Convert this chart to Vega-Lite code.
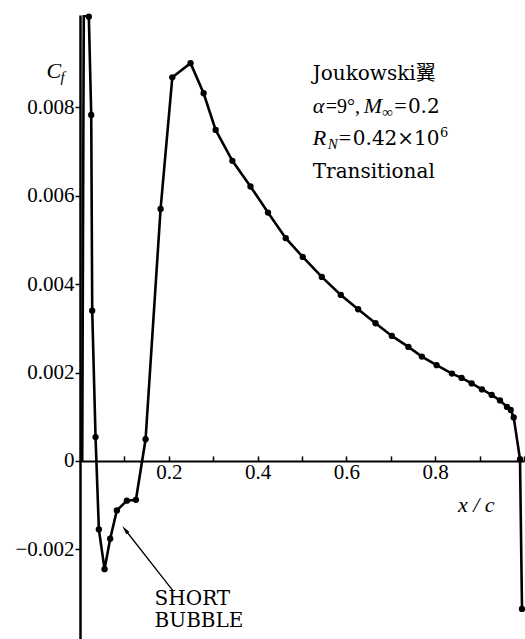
{
  "$schema": "https://vega.github.io/schema/vega-lite/v6.json",
  "width": 444,
  "height": 624,
  "autosize": {"type": "none"},
  "padding": {"left": 80, "top": 15, "right": 1, "bottom": 0},
  "background": "white",
  "config": {"view": {"stroke": null}},
  "data": {"values": [{}]},
  "datasets": {
    "cf": [
      {"x": 0.005, "cf": 0.0},
      {"x": 0.0085, "cf": 0.01009},
      {"x": 0.0199, "cf": 0.01005},
      {"x": 0.0253, "cf": 0.00783},
      {"x": 0.0275, "cf": 0.0034},
      {"x": 0.035, "cf": 0.00054},
      {"x": 0.0425, "cf": -0.00155},
      {"x": 0.0553, "cf": -0.00245},
      {"x": 0.068, "cf": -0.00176},
      {"x": 0.083, "cf": -0.00112},
      {"x": 0.1055, "cf": -0.0009},
      {"x": 0.126, "cf": -0.00088},
      {"x": 0.1477, "cf": 0.00049},
      {"x": 0.1815, "cf": 0.0057},
      {"x": 0.2079, "cf": 0.00868},
      {"x": 0.249, "cf": 0.009},
      {"x": 0.2784, "cf": 0.00832},
      {"x": 0.3055, "cf": 0.00749},
      {"x": 0.3432, "cf": 0.00679},
      {"x": 0.384, "cf": 0.00621},
      {"x": 0.4234, "cf": 0.00562},
      {"x": 0.4634, "cf": 0.00504},
      {"x": 0.5017, "cf": 0.004615},
      {"x": 0.5445, "cf": 0.004163},
      {"x": 0.5874, "cf": 0.003756},
      {"x": 0.6264, "cf": 0.003432},
      {"x": 0.6656, "cf": 0.003115},
      {"x": 0.7024, "cf": 0.002828},
      {"x": 0.7396, "cf": 0.002579},
      {"x": 0.77, "cf": 0.00236},
      {"x": 0.8032, "cf": 0.002167},
      {"x": 0.8377, "cf": 0.001975},
      {"x": 0.8595, "cf": 0.001878},
      {"x": 0.8821, "cf": 0.001753},
      {"x": 0.9053, "cf": 0.001618},
      {"x": 0.9272, "cf": 0.001493},
      {"x": 0.9459, "cf": 0.001369},
      {"x": 0.9617, "cf": 0.001222},
      {"x": 0.97, "cf": 0.001154},
      {"x": 0.9768, "cf": 0.000984},
      {"x": 0.991, "cf": 0.00004},
      {"x": 0.9955, "cf": -0.00335}
    ]
  },
  "layer": [
    {
      "data": {"name": "cf"},
      "mark": {"type": "line", "color": "black", "strokeWidth": 2.6, "clip": true},
      "encoding": {
        "x": {
          "field": "x", "type": "quantitative",
          "scale": {"domain": [0, 1], "nice": false, "zero": false},
          "axis": {
            "orient": "bottom", "offset": -178.1,
            "values": [0.1, 0.2, 0.3, 0.4, 0.5, 0.6, 0.7, 0.8, 0.9, 1.0],
            "labelExpr": "indexof(['0.2','0.4','0.6','0.8'], format(datum.value, '.1f')) >= 0 ? format(datum.value, '.1f') : ''",
            "title": null, "grid": false,
            "tickSize": -5, "tickWidth": 1.5, "tickColor": "black",
            "domainWidth": 2, "domainColor": "black",
            "labelFont": "Liberation Serif", "labelFontSize": 21, "labelColor": "black",
            "labelPadding": 6, "labelFlush": false, "labelOverlap": false
          }
        },
        "y": {
          "field": "cf", "type": "quantitative",
          "scale": {"domain": [-0.00403, 0.01009], "nice": false, "zero": false},
          "axis": {
            "orient": "left",
            "values": [-0.002, 0, 0.002, 0.004, 0.006, 0.008],
            "labelExpr": "datum.value == 0 ? '0' : format(datum.value, '.3f')",
            "title": null, "grid": false,
            "tickSize": 5, "tickWidth": 1.5, "tickColor": "black",
            "domainWidth": 2.5, "domainColor": "black",
            "labelFont": "Liberation Serif", "labelFontSize": 21, "labelColor": "black",
            "labelPadding": 1, "labelOverlap": false
          }
        }
      }
    },
    {
      "data": {"name": "cf"},
      "transform": [{"filter": "datum.x > 0.01"}],
      "mark": {"type": "point", "filled": true, "color": "black", "size": 40, "opacity": 1},
      "encoding": {
        "x": {"field": "x", "type": "quantitative"},
        "y": {"field": "cf", "type": "quantitative"}
      }
    },
    {
      "mark": {"type": "rule", "color": "black", "strokeWidth": 1.3},
      "encoding": {
        "x": {"datum": 0.1022, "type": "quantitative"},
        "y": {"datum": -0.001563, "type": "quantitative"},
        "x2": {"datum": 0.2092},
        "y2": {"datum": -0.002934}
      }
    },
    {
      "mark": {"type": "point", "shape": "M0,-1L0.4,0.8L-0.4,0.8Z", "filled": true, "color": "black", "size": 100, "angle": 322, "opacity": 1},
      "encoding": {
        "x": {"datum": 0.1022, "type": "quantitative"},
        "y": {"datum": -0.001563, "type": "quantitative"}
      }
    },
    {
      "mark": {"type": "text", "font": "DejaVu Serif", "fontSize": 20, "align": "left", "baseline": "alphabetic", "color": "black"},
      "encoding": {
        "x": {"datum": 0.168, "type": "quantitative"},
        "y": {"datum": -0.003258, "type": "quantitative"},
        "text": {"value": "SHORT"}
      }
    },
    {
      "mark": {"type": "text", "font": "DejaVu Serif", "fontSize": 20, "align": "left", "baseline": "alphabetic", "color": "black"},
      "encoding": {
        "x": {"datum": 0.168, "type": "quantitative"},
        "y": {"datum": -0.003756, "type": "quantitative"},
        "text": {"value": "BUBBLE"}
      }
    },
    {
      "mark": {"type": "text", "font": "DejaVu Serif, Noto Sans CJK JP", "fontSize": 20, "align": "left", "baseline": "alphabetic", "color": "black"},
      "encoding": {
        "x": {"datum": 0.5242, "type": "quantitative"},
        "y": {"datum": 0.00862, "type": "quantitative"},
        "text": {"value": "Joukowski翼"}
      }
    },
    {
      "mark": {"type": "text", "font": "Liberation Serif", "fontSize": 22, "fontStyle": "italic", "align": "left", "baseline": "alphabetic", "color": "black"},
      "encoding": {
        "x": {"datum": 0.5242, "type": "quantitative"},
        "y": {"datum": 0.00787, "type": "quantitative"},
        "text": {"value": "α"}
      }
    },
    {
      "mark": {"type": "text", "font": "Liberation Serif", "fontSize": 20, "align": "left", "baseline": "alphabetic", "color": "black"},
      "encoding": {
        "x": {"datum": 0.5535, "type": "quantitative"},
        "y": {"datum": 0.00787, "type": "quantitative"},
        "text": {"value": "=9°,"}
      }
    },
    {
      "mark": {"type": "text", "font": "Liberation Serif", "fontSize": 22, "fontStyle": "italic", "align": "left", "baseline": "alphabetic", "color": "black"},
      "encoding": {
        "x": {"datum": 0.6392, "type": "quantitative"},
        "y": {"datum": 0.00787, "type": "quantitative"},
        "text": {"value": "M"}
      }
    },
    {
      "mark": {"type": "text", "font": "Liberation Serif", "fontSize": 15, "align": "left", "baseline": "alphabetic", "color": "black"},
      "encoding": {
        "x": {"datum": 0.6805, "type": "quantitative"},
        "y": {"datum": 0.00778, "type": "quantitative"},
        "text": {"value": "∞"}
      }
    },
    {
      "mark": {"type": "text", "font": "Liberation Serif", "fontSize": 22, "align": "left", "baseline": "alphabetic", "color": "black"},
      "encoding": {
        "x": {"datum": 0.7075, "type": "quantitative"},
        "y": {"datum": 0.00787, "type": "quantitative"},
        "text": {"value": "="}
      }
    },
    {
      "mark": {"type": "text", "font": "DejaVu Serif", "fontSize": 20, "align": "left", "baseline": "alphabetic", "color": "black"},
      "encoding": {
        "x": {"datum": 0.7385, "type": "quantitative"},
        "y": {"datum": 0.00787, "type": "quantitative"},
        "text": {"value": "0.2"}
      }
    },
    {
      "mark": {"type": "text", "font": "Liberation Serif", "fontSize": 22, "fontStyle": "italic", "align": "left", "baseline": "alphabetic", "color": "black"},
      "encoding": {
        "x": {"datum": 0.5242, "type": "quantitative"},
        "y": {"datum": 0.00715, "type": "quantitative"},
        "text": {"value": "R"}
      }
    },
    {
      "mark": {"type": "text", "font": "Liberation Serif", "fontSize": 15, "fontStyle": "italic", "align": "left", "baseline": "alphabetic", "color": "black"},
      "encoding": {
        "x": {"datum": 0.5581, "type": "quantitative"},
        "y": {"datum": 0.007059, "type": "quantitative"},
        "text": {"value": "N"}
      }
    },
    {
      "mark": {"type": "text", "font": "Liberation Serif", "fontSize": 22, "align": "left", "baseline": "alphabetic", "color": "black"},
      "encoding": {
        "x": {"datum": 0.5829, "type": "quantitative"},
        "y": {"datum": 0.00715, "type": "quantitative"},
        "text": {"value": "="}
      }
    },
    {
      "mark": {"type": "text", "font": "DejaVu Serif", "fontSize": 20, "align": "left", "baseline": "alphabetic", "color": "black"},
      "encoding": {
        "x": {"datum": 0.6144, "type": "quantitative"},
        "y": {"datum": 0.00715, "type": "quantitative"},
        "text": {"value": "0.42×10"}
      }
    },
    {
      "mark": {"type": "text", "font": "DejaVu Serif", "fontSize": 13, "align": "left", "baseline": "alphabetic", "color": "black"},
      "encoding": {
        "x": {"datum": 0.8106, "type": "quantitative"},
        "y": {"datum": 0.00733, "type": "quantitative"},
        "text": {"value": "6"}
      }
    },
    {
      "mark": {"type": "text", "font": "DejaVu Serif", "fontSize": 20, "align": "left", "baseline": "alphabetic", "color": "black"},
      "encoding": {
        "x": {"datum": 0.5242, "type": "quantitative"},
        "y": {"datum": 0.0064, "type": "quantitative"},
        "text": {"value": "Transitional"}
      }
    },
    {
      "mark": {"type": "text", "font": "Liberation Serif", "fontSize": 22, "fontStyle": "italic", "align": "left", "baseline": "alphabetic", "color": "black"},
      "encoding": {
        "x": {"datum": -0.0755, "type": "quantitative"},
        "y": {"datum": 0.008665, "type": "quantitative"},
        "text": {"value": "C"}
      }
    },
    {
      "mark": {"type": "text", "font": "Liberation Serif", "fontSize": 15, "fontStyle": "italic", "align": "left", "baseline": "alphabetic", "color": "black"},
      "encoding": {
        "x": {"datum": -0.044, "type": "quantitative"},
        "y": {"datum": 0.008575, "type": "quantitative"},
        "text": {"value": "f"}
      }
    },
    {
      "mark": {"type": "text", "font": "Liberation Serif", "fontSize": 22, "fontStyle": "italic", "align": "left", "baseline": "alphabetic", "color": "black"},
      "encoding": {
        "x": {"datum": 0.8512, "type": "quantitative"},
        "y": {"datum": -0.001154, "type": "quantitative"},
        "text": {"value": "x / c"}
      }
    }
  ]
}
